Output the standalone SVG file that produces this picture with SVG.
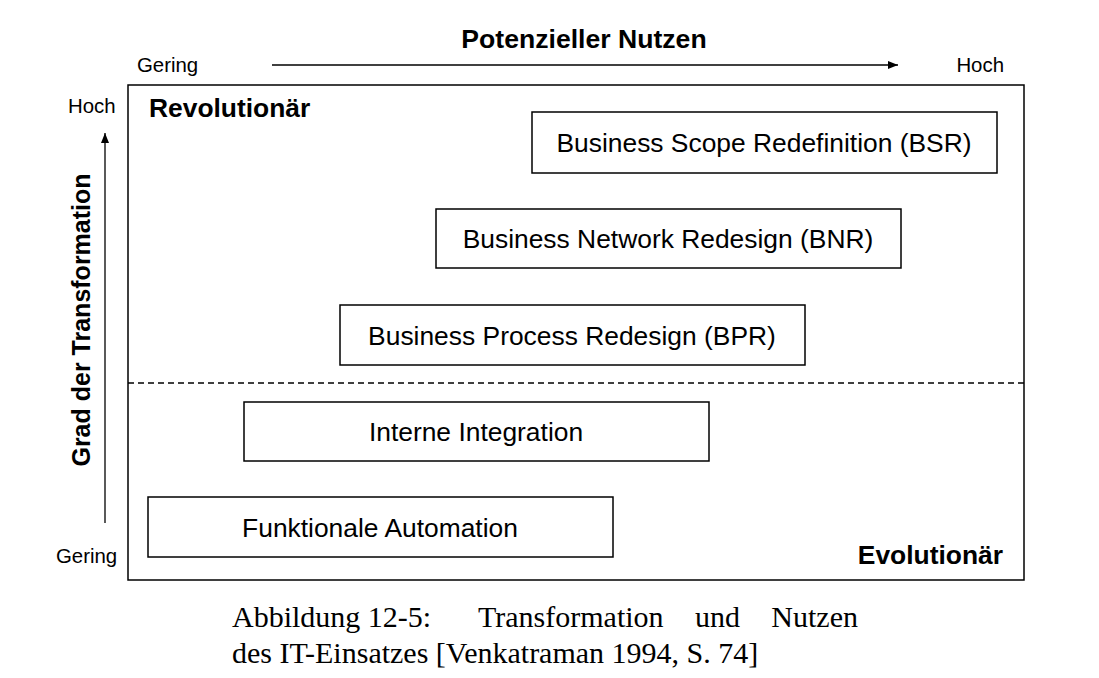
<svg xmlns="http://www.w3.org/2000/svg" width="1099" height="678" viewBox="0 0 1099 678">
<style>
.box{fill:#fff;stroke:#000;stroke-width:1.5}
.bt{font-family:"Liberation Sans",Arial,sans-serif;font-size:26.4px;text-anchor:middle;fill:#000}
.lbl{font-family:"Liberation Sans",Arial,sans-serif;font-size:20.4px;fill:#000}
.bold{font-family:"Liberation Sans",Arial,sans-serif;font-weight:bold;fill:#000}
.cap{font-family:"Liberation Serif","Times New Roman",serif;font-size:30px;fill:#000}
</style>
<defs>
<marker id="ah" viewBox="0 0 10 10" refX="10" refY="5" markerWidth="10" markerHeight="10" markerUnits="userSpaceOnUse" orient="auto">
<path d="M0,1 L10,5 L0,9 z" fill="#000"/>
</marker>
</defs>
<rect width="1099" height="678" fill="#fff"/>
<g id="frame">
<rect x="128" y="85" width="896" height="495" fill="none" stroke="#000" stroke-width="1.5"/>
<line x1="128" y1="383" x2="1024" y2="383" stroke="#000" stroke-width="1.3" stroke-dasharray="6,4"/>
</g>
<g id="connectors">
<line x1="272" y1="65" x2="898" y2="65" stroke="#000" stroke-width="1.3" marker-end="url(#ah)"/>
<line x1="105" y1="523" x2="105" y2="133" stroke="#000" stroke-width="1.3" marker-end="url(#ah)"/>
</g>
<g id="axis-labels">
<text class="bold" x="584" y="48" font-size="26.6" text-anchor="middle">Potenzieller Nutzen</text>
<text class="lbl" x="137" y="72">Gering</text>
<text class="lbl" x="1004" y="72" text-anchor="end">Hoch</text>
<text class="lbl" x="68" y="113">Hoch</text>
<text class="lbl" x="56" y="563">Gering</text>
<text class="bold" x="149" y="117" font-size="26.4">Revolutionär</text>
<text class="bold" x="1003" y="564" font-size="26.4" text-anchor="end">Evolutionär</text>
<text class="bold" font-size="25" text-anchor="middle" transform="translate(90,320) rotate(-90)">Grad der Transformation</text>
</g>
<g id="bsr"><rect class="box" x="532" y="112" width="465" height="61"/><text class="bt" x="764" y="152">Business Scope Redefinition (BSR)</text></g>
<g id="bnr"><rect class="box" x="436" y="209" width="465" height="59"/><text class="bt" x="668" y="248">Business Network Redesign (BNR)</text></g>
<g id="bpr"><rect class="box" x="340" y="305" width="465" height="60"/><text class="bt" x="572" y="345">Business Process Redesign (BPR)</text></g>
<g id="ii"><rect class="box" x="244" y="402" width="465" height="59"/><text class="bt" x="476" y="441">Interne Integration</text></g>
<g id="fa"><rect class="box" x="148" y="497" width="465" height="60"/><text class="bt" x="380" y="537">Funktionale Automation</text></g>
<g id="caption">
<text class="cap" x="232" y="627">Abbildung 12-5:</text>
<text class="cap" x="478" y="627">Transformation</text>
<text class="cap" x="695" y="627">und</text>
<text class="cap" x="858" y="627" text-anchor="end">Nutzen</text>
<text class="cap" x="232" y="663">des IT-Einsatzes [Venkatraman 1994, S. 74]</text>
</g>
</svg>
